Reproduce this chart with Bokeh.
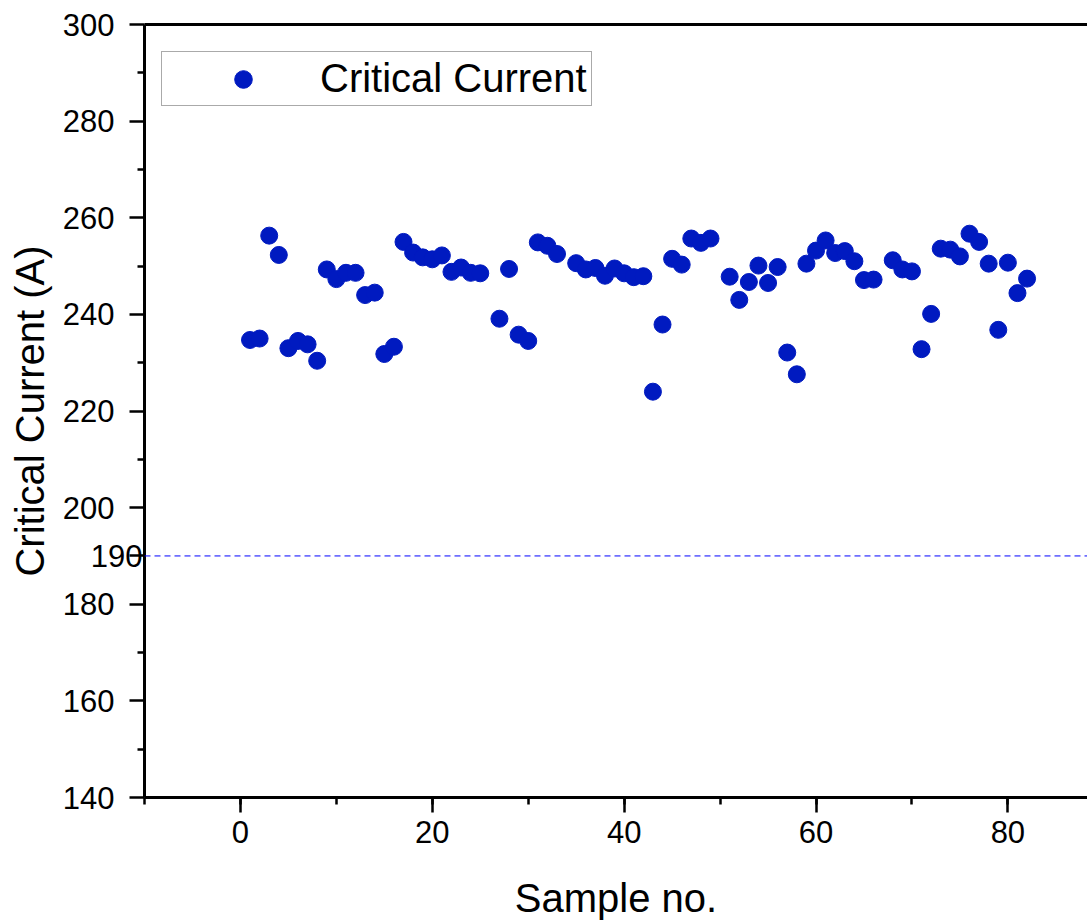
from bokeh.plotting import figure
from bokeh.models import (Range1d, SingleIntervalTicker, LinearAxis, FixedTicker,
                          Span, Legend, LegendItem, ColumnDataSource)
from bokeh.embed import file_html
from bokeh.resources import INLINE

# ---- data ----
sample_no = [1, 2, 3, 4, 5, 6, 7, 8, 9, 10, 11, 12, 13, 14, 15, 16, 17, 18, 19, 20,
             21, 22, 23, 24, 25, 27, 28, 29, 30, 31, 32, 33, 35, 36, 37, 38, 39, 40,
             41, 42, 43, 44, 45, 46, 47, 48, 49, 51, 52, 53, 54, 55, 56, 57, 58, 59,
             60, 61, 62, 63, 64, 65, 66, 68, 69, 70, 71, 72, 73, 74, 75, 76, 77, 78,
             79, 80, 81, 82]
critical_current = [234.7, 235.0, 256.3, 252.3, 233.0, 234.5, 233.8, 230.4, 249.3, 247.3,
                    248.6, 248.6, 244.0, 244.5, 231.8, 233.3, 255.0, 252.8, 251.8, 251.4,
                    252.2, 248.8, 249.7, 248.6, 248.5, 239.1, 249.4, 235.8, 234.5, 254.9,
                    254.2, 252.5, 250.6, 249.3, 249.6, 248.0, 249.5, 248.5, 247.7, 247.9,
                    224.0, 237.9, 251.5, 250.3, 255.7, 254.8, 255.7, 247.8, 243.0, 246.7,
                    250.1, 246.5, 249.8, 232.1, 227.6, 250.5, 253.2, 255.3, 252.7, 253.1,
                    251.0, 247.1, 247.2, 251.2, 249.3, 248.9, 232.8, 240.1, 253.6, 253.4,
                    252.0, 256.7, 255.0, 250.5, 236.8, 250.7, 244.4, 247.4]
y_major_ticks = [140, 160, 180, 200, 220, 240, 260, 280, 300]
y_minor_ticks = [150, 170, 210, 230, 250, 270, 290]
threshold = 190
series_name = "Critical Current"
x_title = "Sample no."
y_title = "Critical Current (A)"

FONT = "Liberation Sans"
BLUE = "#001ac0"

p = figure(width=1087, height=922, output_backend="svg", toolbar_location=None,
           x_range=Range1d(-10, 88.3), y_range=Range1d(140, 300),
           min_border_left=144, min_border_right=0, min_border_top=24,
           min_border_bottom=122)
p.outline_line_color = None
p.xgrid.visible = False
p.ygrid.visible = False
p.background_fill_color = "white"
p.border_fill_color = "white"

src = ColumnDataSource(dict(x=sample_no, y=critical_current))
r = p.scatter("x", "y", source=src, size=17, fill_color=BLUE, line_color=BLUE)

def style(ax):
    ax.axis_line_width = 3
    ax.axis_line_color = "black"
    ax.major_tick_line_width = 2.5
    ax.minor_tick_line_width = 2.5
    ax.major_tick_line_color = "black"
    ax.minor_tick_line_color = "black"
    ax.major_tick_in = 0
    ax.major_tick_out = 15
    ax.minor_tick_in = 0
    ax.minor_tick_out = 7
    ax.major_label_text_font = FONT
    ax.major_label_text_font_size = "31px"
    ax.major_label_text_color = "black"
    ax.axis_label_text_font = FONT
    ax.axis_label_text_font_size = "40px"
    ax.axis_label_text_font_style = "normal"
    ax.axis_label_text_color = "black"

# x axis
xa = p.xaxis[0]
style(xa)
xa.ticker = SingleIntervalTicker(interval=20, num_minor_ticks=2)
xa.axis_label = x_title
xa.major_label_standoff = 8
xa.axis_label_standoff = 30

# inner y axis: spine, tick marks and the threshold label (190)
ya = p.yaxis[0]
style(ya)
ya.ticker = FixedTicker(ticks=y_major_ticks + [threshold], minor_ticks=y_minor_ticks)
ya.major_label_overrides = {t: "" for t in y_major_ticks}
ya.major_label_overrides[threshold] = str(threshold)
ya.major_label_standoff = -13

# outer y axis: regular tick labels and the title
yb = LinearAxis(ticker=FixedTicker(ticks=y_major_ticks, minor_ticks=[]))
style(yb)
yb.axis_line_color = None
yb.major_tick_line_color = None
yb.minor_tick_line_color = None
yb.major_tick_out = 0
yb.minor_tick_out = 0
yb.major_label_standoff = -27
yb.axis_label = y_title
yb.axis_label_standoff = 8
p.add_layout(yb, "left")

# top spine
top_axis = LinearAxis(ticker=FixedTicker(ticks=[]), axis_line_width=3,
                      axis_line_color="black", major_tick_line_color=None,
                      minor_tick_line_color=None, major_label_text_font_size="0px")
p.add_layout(top_axis, "above")

# threshold line
p.add_layout(Span(location=threshold, dimension="width", line_color="#0000ff",
                  line_width=1, line_dash="6 4"))

legend = Legend(items=[LegendItem(label=series_name, renderers=[r])],
                location=(17, 691), orientation="vertical",
                label_text_font=FONT, label_text_font_size="40px",
                label_text_color="black", padding=4, spacing=0, margin=0,
                glyph_width=154, glyph_height=44, label_standoff=0,
                border_line_color="#555555", border_line_width=1.5,
                background_fill_color="white", background_fill_alpha=1)
p.add_layout(legend)

open("out.html", "w").write(file_html(p, INLINE))
